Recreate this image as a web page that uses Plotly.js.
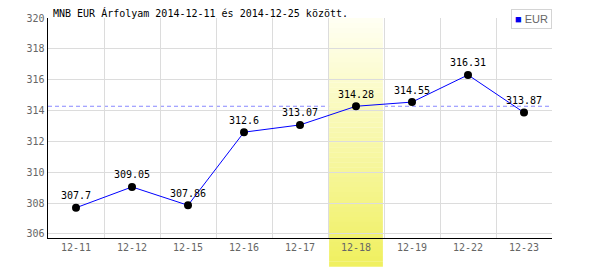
<!DOCTYPE html>
<html>
<head>
<meta charset="utf-8">
<script src="https://cdn.plot.ly/plotly-3.0.1.min.js"></script>
<style>html,body{margin:0;padding:0;background:#fff}#chart{width:600px;height:270px}</style>
</head>
<body>
<div id="chart"></div>
<script>
const dates = ['12-11','12-12','12-15','12-16','12-17','12-18','12-19','12-22','12-23'];
const rates = [307.7, 309.05, 307.86, 312.6, 313.07, 314.28, 314.55, 316.31, 313.87];
const labels = ['307.7','309.05','307.86','312.6','313.07','314.28','314.55','316.31','313.87'];
const seriesName = 'EUR';
const highlightDate = '12-18';
const titleText = 'MNB EUR Árfolyam 2014-12-11 és 2014-12-25 között.';
const yTicks = [306, 308, 310, 312, 314, 316, 318, 320];

const hiIdx = dates.indexOf(highlightDate);
const refValue = rates[hiIdx];

// gradient band made of thin strips
const shapes = [];
shapes.push({type:'line', xref:'paper', yref:'y', x0:0, x1:1, y0:refValue, y1:refValue,
  line:{color:'#8888ff', width:1, dash:'4px,3px'}, layer:'below'});
const nStrips = 50, bandBottom = -0.13, bandTop = 1;
const c0 = [255,255,242], c1 = [240,240,96];
for (let i = 0; i < nStrips; i++) {
  const t = i / (nStrips - 1);
  const r = Math.round(c0[0] + (c1[0]-c0[0])*t);
  const g = Math.round(c0[1] + (c1[1]-c0[1])*t);
  const b = Math.round(c0[2] + (c1[2]-c0[2])*t);
  const yTop = bandTop - (bandTop - bandBottom) * i / nStrips;
  const yBot = bandTop - (bandTop - bandBottom) * (i + 1) / nStrips;
  shapes.push({type:'rect', xref:'x', yref:'paper', x0:hiIdx-0.48, x1:hiIdx+0.48,
    y0:yBot - 0.001, y1:yTop, fillcolor:`rgb(${r},${g},${b})`, line:{width:0}, layer:'between'});
}

const trace = {
  x: dates, y: rates, text: labels, type:'scatter', mode:'lines+markers+text',
  name: seriesName, showlegend:false,
  line:{color:'#0000ff', width:1},
  marker:{color:'#000', size:8},
  textposition:'top center',
  textfont:{family:'DejaVu Sans Mono', size:10, color:'#000'},
  cliponaxis:false, hoverinfo:'none'
};

const layout = {
  width:600, height:270,
  margin:{l:48, r:48, t:18, b:32},
  paper_bgcolor:'#fff', plot_bgcolor:'#fff',
  showlegend:false,
  title:{text:titleText, x:53/600, xanchor:'left', xref:'container', y:1-13/270, yanchor:'middle',
    font:{family:'DejaVu Sans Mono', size:10, color:'#000'}},
  xaxis:{type:'category', range:[-0.5, dates.length-0.5], tickson:'boundaries',
    showgrid:true, gridcolor:'#dcdcdc', gridwidth:1,
    showline:true, linecolor:'#000', linewidth:1, ticks:'', zeroline:false,
    tickfont:{family:'DejaVu Sans Mono', size:10, color:'#666'}, fixedrange:true},
  yaxis:{range:[305.74, 320], tickvals:yTicks, ticktext:yTicks.map(String),
    showgrid:true, gridcolor:'#dcdcdc', gridwidth:1,
    showline:true, linecolor:'#000', linewidth:1.5, ticks:'', zeroline:false,
    tickfont:{family:'DejaVu Sans Mono', size:10, color:'#666'}, fixedrange:true},
  shapes: shapes,
  annotations:[{
    xref:'paper', yref:'paper', x:(511-48)/504, y:(238-9)/220, xanchor:'left', yanchor:'top',
    text:'<span style="color:#0000ee">■</span><span style="color:#666"> ' + seriesName + '</span>',
    showarrow:false, bgcolor:'#fff', bordercolor:'#d4d4d4', borderwidth:1, borderpad:3,
    font:{family:'Liberation Sans', size:11, color:'#666'}
  }]
};

Plotly.newPlot('chart', [trace], layout, {staticPlot:true, displayModeBar:false});
</script>
</body>
</html>
